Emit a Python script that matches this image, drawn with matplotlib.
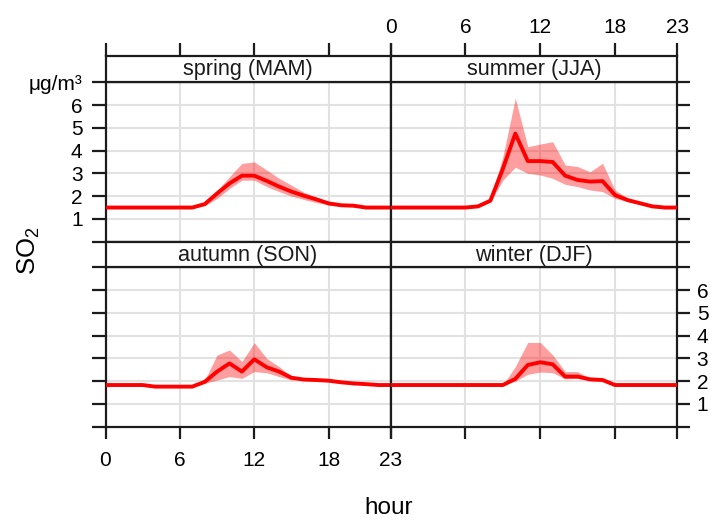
import matplotlib
matplotlib.use("Agg")
import matplotlib.pyplot as plt

plt.rcParams['font.family'] = ['Liberation Sans', 'DejaVu Sans']
plt.rcParams['mathtext.default'] = 'regular'

# ---- data: hourly mean SO2 (µg/m3) with confidence band, by season ----
hours = [0, 1, 2, 3, 4, 5, 6, 7, 8, 9, 10, 11, 12, 13, 14, 15, 16, 17, 18, 19, 20, 21, 22, 23]

spring_mean = [1.5, 1.5, 1.5, 1.5, 1.5, 1.5, 1.5, 1.5, 1.65, 2.12, 2.56, 2.9,
               2.9, 2.67, 2.42, 2.2, 2.02, 1.86, 1.68, 1.6, 1.58, 1.5, 1.5, 1.5]
spring_lo = [1.5, 1.5, 1.5, 1.5, 1.5, 1.5, 1.5, 1.5, 1.58, 1.9, 2.34, 2.7,
             2.7, 2.42, 2.2, 2.0, 1.85, 1.72, 1.62, 1.57, 1.55, 1.5, 1.5, 1.5]
spring_hi = [1.5, 1.5, 1.5, 1.5, 1.5, 1.5, 1.5, 1.5, 1.72, 2.25, 2.85, 3.44,
             3.5, 3.15, 2.78, 2.48, 2.17, 1.95, 1.72, 1.63, 1.6, 1.5, 1.5, 1.5]

summer_mean = [1.5, 1.5, 1.5, 1.5, 1.5, 1.5, 1.5, 1.55, 1.8, 3.2, 4.75, 3.54,
               3.54, 3.5, 2.9, 2.71, 2.64, 2.66, 2.05, 1.83, 1.69, 1.55, 1.5, 1.5]
summer_lo = [1.5, 1.5, 1.5, 1.5, 1.5, 1.5, 1.5, 1.55, 1.75, 2.7, 3.27, 3.0,
             2.93, 2.78, 2.52, 2.42, 2.27, 2.2, 1.9, 1.76, 1.65, 1.53, 1.5, 1.5]
summer_hi = [1.5, 1.5, 1.5, 1.5, 1.5, 1.5, 1.5, 1.55, 1.85, 3.73, 6.3, 4.17,
             4.29, 4.39, 3.37, 3.3, 3.07, 3.44, 2.27, 1.92, 1.73, 1.57, 1.5, 1.5]

autumn_mean = [1.83, 1.83, 1.83, 1.83, 1.76, 1.76, 1.76, 1.76, 1.97, 2.42, 2.78, 2.42,
               2.96, 2.61, 2.42, 2.15, 2.07, 2.05, 2.02, 1.95, 1.9, 1.87, 1.83, 1.83]
autumn_lo = [1.83, 1.83, 1.83, 1.83, 1.76, 1.76, 1.76, 1.76, 1.9, 2.05, 2.2, 2.12,
             2.42, 2.37, 2.2, 2.05, 2.07, 2.05, 2.02, 1.95, 1.9, 1.87, 1.83, 1.83]
autumn_hi = [1.83, 1.83, 1.83, 1.83, 1.76, 1.76, 1.76, 1.76, 2.05, 3.15, 3.37, 2.86,
             3.69, 3.0, 2.64, 2.2, 2.07, 2.05, 2.02, 1.95, 1.9, 1.87, 1.83, 1.83]

winter_mean = [1.83, 1.83, 1.83, 1.83, 1.83, 1.83, 1.83, 1.83, 1.83, 1.83, 2.1, 2.71,
               2.83, 2.74, 2.2, 2.2, 2.08, 2.05, 1.83, 1.83, 1.83, 1.83, 1.83, 1.83]
winter_lo = [1.83, 1.83, 1.83, 1.83, 1.83, 1.83, 1.83, 1.83, 1.83, 1.83, 2.0, 2.3,
             2.4, 2.37, 2.1, 2.12, 2.02, 2.0, 1.83, 1.83, 1.83, 1.83, 1.83, 1.83]
winter_hi = [1.83, 1.83, 1.83, 1.83, 1.83, 1.83, 1.83, 1.83, 1.83, 1.83, 2.64, 3.7,
             3.7, 3.15, 2.42, 2.42, 2.12, 2.1, 1.83, 1.83, 1.83, 1.83, 1.83, 1.83]

season_labels = ["spring (MAM)", "summer (JJA)", "autumn (SON)", "winter (DJF)"]
hour_ticks = [0, 6, 12, 18, 23]
y_ticks = [0, 1, 2, 3, 4, 5, 6, 7]
y_labels = ["", "1", "2", "3", "4", "5", "6", "\u03bcg/m\u00b3"]

# ---- figure layout (pixel boxes) ----
W, H = 711, 520
fig = plt.figure(figsize=(W / 100, H / 100), dpi=100)


def box(x0, y0, x1, y1):
    return [x0 / W, 1 - y1 / H, (x1 - x0) / W, (y1 - y0) / H]


xL0, xL1, xR1 = 105.5, 390.7, 677.3
rows = [(56.0, 82.3, 241.7), (242.0, 267.3, 426.7)]   # strip top, panel top, panel bottom
cols = [(xL0, xL1), (xL1, xR1)]

series = [(spring_mean, spring_lo, spring_hi), (summer_mean, summer_lo, summer_hi),
          (autumn_mean, autumn_lo, autumn_hi), (winter_mean, winter_lo, winter_hi)]

EDGE = "#1c1c1c"
LW = 1.6
TICK_FS = 15
STRIP_FS = 15.6

for i in range(4):
    r, c = divmod(i, 2)
    s_top, p_top, p_bot = rows[r]
    x0, x1 = cols[c]
    mean, lo, hi = series[i]

    ax = fig.add_axes(box(x0, p_top, x1, p_bot))
    ax.set_xlim(0, 23)
    ax.set_ylim(0, 7)
    for v in [6, 12, 18]:
        ax.axvline(v, color="#e2e2e2", lw=1.5, zorder=0)
    for v in [1, 2, 3, 4, 5, 6]:
        ax.axhline(v, color="#e2e2e2", lw=1.5, zorder=0)
    ax.fill_between(hours, lo, hi, color="red", alpha=0.38, lw=0, zorder=2)
    ax.plot(hours, mean, color="red", lw=2.8, zorder=3, solid_joinstyle="round")

    for sp in ax.spines.values():
        sp.set_color(EDGE)
        sp.set_linewidth(LW)

    # y axis ticks: left on left panels, right on right panels
    ax.set_yticks(y_ticks)
    if c == 0:
        ax.yaxis.set_ticks_position("left")
        ax.tick_params(axis="y", direction="out", length=10, width=LW, color=EDGE,
                       pad=6.5, labelsize=TICK_FS)
        ax.set_yticklabels(y_labels if r == 0 else [""] * len(y_ticks))
    else:
        ax.yaxis.set_ticks_position("right")
        ax.tick_params(axis="y", direction="out", length=9.5, width=LW, color=EDGE,
                       pad=4.5, labelsize=TICK_FS)
        ax.set_yticklabels(y_labels[:-1] + [""] if r == 1 else [""] * len(y_ticks))

    # x axis ticks at the bottom of the lower row
    ax.set_xticks(hour_ticks)
    if r == 1:
        ax.xaxis.set_ticks_position("bottom")
        ax.tick_params(axis="x", direction="out", length=8.3, width=LW, color=EDGE,
                       pad=9.5, labelsize=TICK_FS)
        ax.set_xticklabels([str(h) for h in hour_ticks] if c == 0 else [""] * 5)
    else:
        ax.tick_params(axis="x", bottom=False, labelbottom=False)

    # strip with season name
    st = fig.add_axes(box(x0, s_top, x1, p_top))
    st.set_xlim(0, 23)
    st.set_ylim(0, 1)
    st.set_yticks([])
    for sp in st.spines.values():
        sp.set_color(EDGE)
        sp.set_linewidth(LW)
    st.text(11.5, 0.47, season_labels[i], ha="center", va="center", fontsize=STRIP_FS,
            color="#1a1a1a")
    st.set_xticks(hour_ticks)
    if r == 0:
        st.xaxis.set_ticks_position("top")
        st.tick_params(axis="x", direction="out", length=9.5, width=LW, color=EDGE,
                       pad=4.5, labelsize=TICK_FS)
        st.set_xticklabels([str(h) for h in hour_ticks] if c == 1 else [""] * 5)
    else:
        st.tick_params(axis="x", bottom=False, top=False, labelbottom=False, labeltop=False)

fig.text(389 / W, 1 - 508 / H, "hour", ha="center", va="center", fontsize=17.5)
fig.text(29 / W, 1 - 251 / H, "SO$_2$", ha="center", va="center", rotation=90, fontsize=18.5)

fig.savefig("out.png", dpi=100)
